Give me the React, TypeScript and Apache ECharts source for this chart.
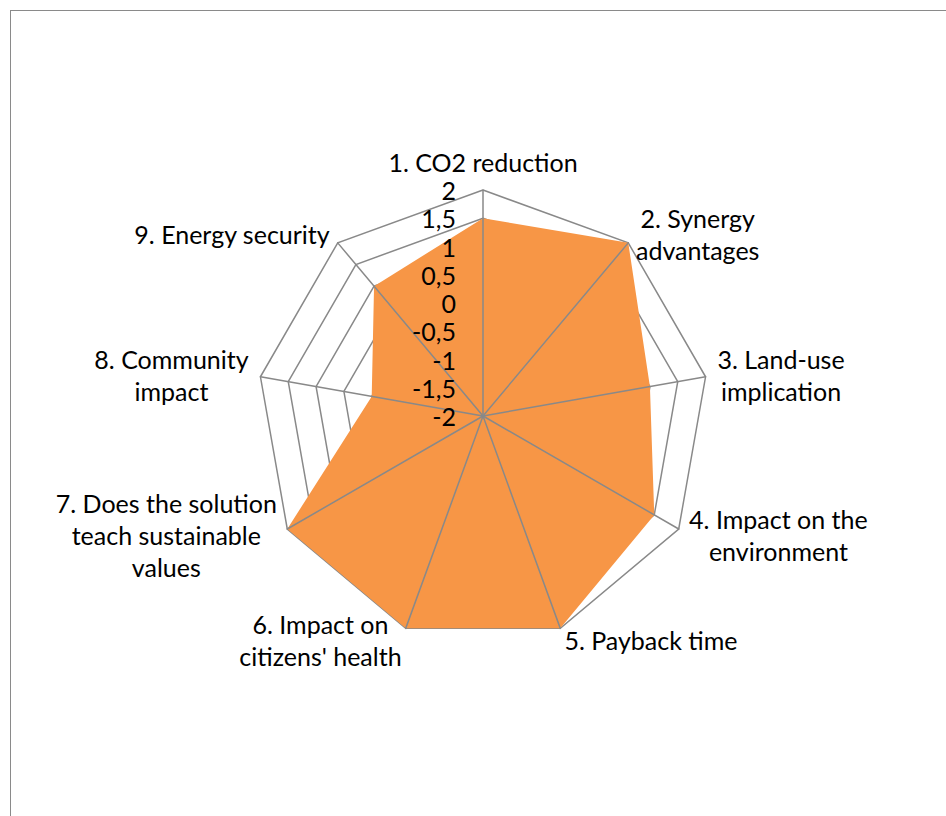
import React, { useEffect, useRef } from "react";
import * as echarts from "echarts";

// Criteria, listed clockwise from the top spoke.
const criteria: string[] = [
  "1. CO2 reduction",
  "2. Synergy\nadvantages",
  "3. Land-use\nimplication",
  "4. Impact on the\nenvironment",
  "5. Payback time",
  "6. Impact on\ncitizens' health",
  "7. Does the solution\nteach sustainable\nvalues",
  "8. Community\nimpact",
  "9. Energy security",
];

// Score for each criterion (scale -2 … 2).
const scores: number[] = [1.5, 2, 1, 1.5, 2, 2, 2, 0, 1];

const scaleMin = -2;
const scaleMax = 2;
const scaleSteps = 8;

const FONT = "Lato";
const FONT_SIZE = 25;
const TEXT_COLOR = "#000000";
const GRID_COLOR = "#898989";
const FILL_COLOR = "#F79646";

// ECharts lays out radar spokes counter-clockwise; keep the first one on top
// and walk the rest backwards so the criteria read clockwise.
const order: number[] = [0, ...criteria.map((_, i) => i).slice(1).reverse()];

const decimalComma = (v: number) => String(v).replace(".", ",");

export default function App() {
  const ref = useRef<HTMLDivElement>(null);

  useEffect(() => {
    if (!ref.current) return;
    const chart = echarts.init(ref.current, undefined, { renderer: "svg" });

    const indicatorsBase = order.map((i) => ({
      name: criteria[i],
      min: scaleMin,
      max: scaleMax,
    }));

    const common = {
      center: [483, 416],
      radius: 226,
      startAngle: 90,
      splitNumber: scaleSteps,
      shape: "polygon" as const,
    };

    chart.setOption({
      animation: false,
      backgroundColor: "transparent",
      radar: [
        {
          // background web: grid rings and criterion names
          ...common,
          z: 1,
          indicator: indicatorsBase,
          axisName: {
            show: true,
            color: TEXT_COLOR,
            fontFamily: FONT,
            fontSize: FONT_SIZE,
            lineHeight: 32,
            formatter: (name: string) =>
              name
                .split("\n")
                .map((line) => `{c|${line}}`)
                .join("\n"),
            rich: {
              c: {
                align: "center",
                fontFamily: FONT,
                fontSize: FONT_SIZE,
                lineHeight: 32,
                color: TEXT_COLOR,
              },
            },
          },
          nameGap: 12,
          axisLine: { show: false },
          axisTick: { show: false },
          axisLabel: { show: false },
          splitArea: { show: false },
          splitLine: {
            show: true,
            lineStyle: { color: GRID_COLOR, width: 1.5 },
          },
        },
        {
          // foreground: spokes and value labels drawn over the filled area
          ...common,
          z: 3,
          indicator: indicatorsBase.map((ind, k) =>
            k === 0 ? { ...ind, axisLabel: { show: true } } : ind
          ),
          axisName: { show: false },
          axisLine: {
            show: true,
            lineStyle: { color: GRID_COLOR, width: 1.5 },
          },
          axisTick: { show: false },
          axisLabel: {
            show: false,
            color: TEXT_COLOR,
            fontFamily: FONT,
            fontSize: FONT_SIZE,
            lineHeight: 18,
            margin: 27,
            showMinLabel: true,
            showMaxLabel: true,
            formatter: (v: number) => decimalComma(v),
          },
          splitArea: { show: false },
          splitLine: { show: false },
        },
      ],
      series: [
        {
          type: "radar",
          radarIndex: 0,
          z: 2,
          symbol: "none",
          lineStyle: { width: 0, color: FILL_COLOR },
          areaStyle: { color: FILL_COLOR, opacity: 1 },
          data: [{ value: order.map((i) => scores[i]), name: "Score" }],
        },
      ],
    });

    return () => chart.dispose();
  }, []);

  return (
    <>
      <div
        style={{
          position: "absolute",
          left: 10,
          top: 10,
          right: 0,
          bottom: 0,
          borderLeft: "1.5px solid #8a8a8a",
          borderTop: "1.5px solid #8a8a8a",
          boxSizing: "border-box",
        }}
      />
      <div
        ref={ref}
        style={{
          position: "absolute",
          left: 0,
          top: 0,
          width: 946,
          height: 816,
        }}
      />
    </>
  );
}
